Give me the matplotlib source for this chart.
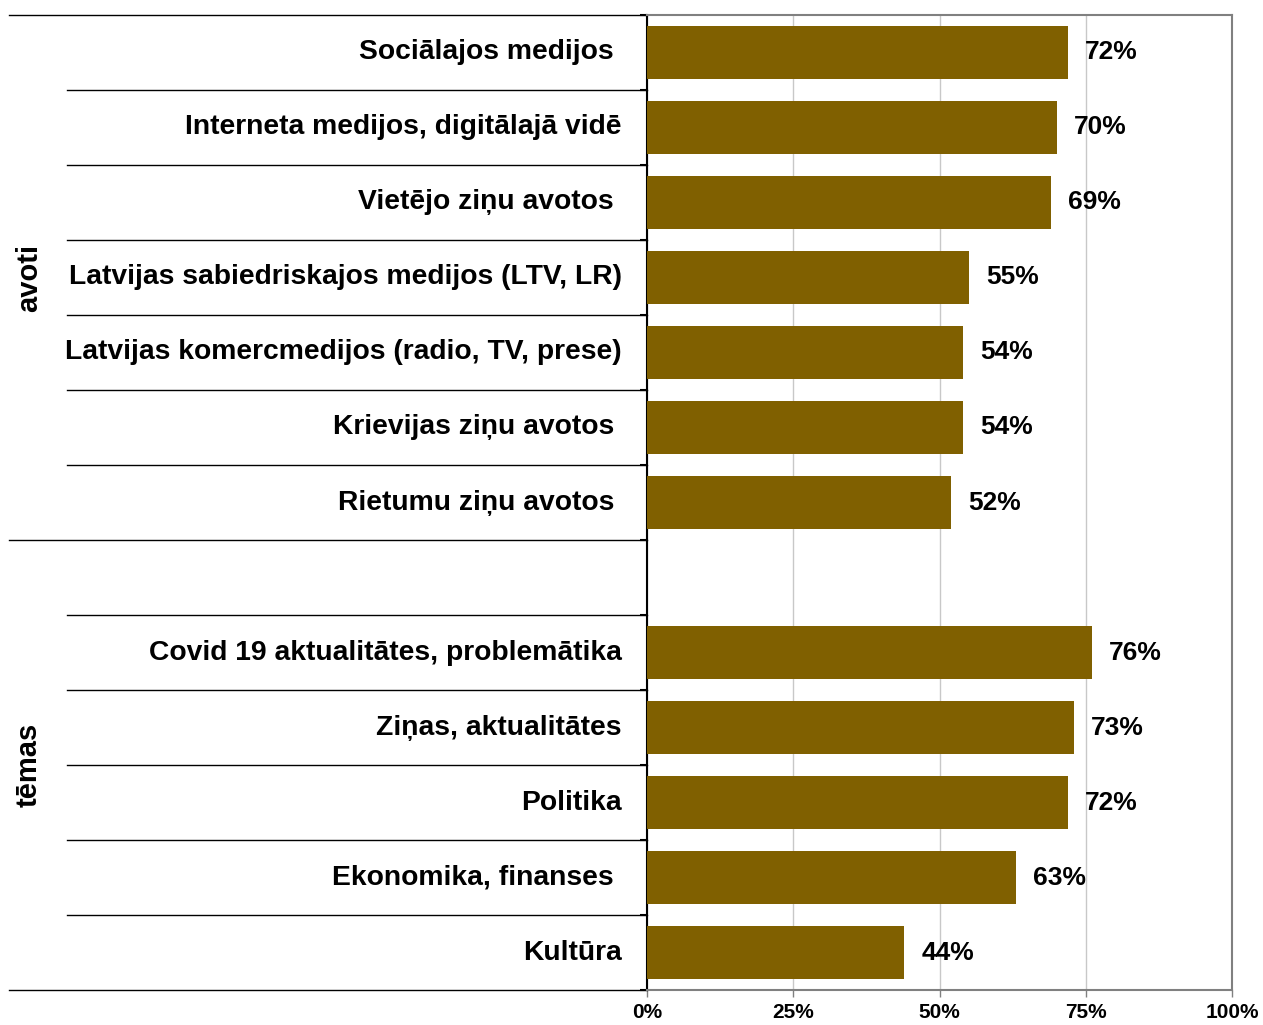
import matplotlib.pyplot as plt
import matplotlib.transforms as mtransforms

plt.rcParams['font.family'] = ['Liberation Sans', 'DejaVu Sans']

labels = ['Sociālajos medijos ', 'Interneta medijos, digitālajā vidē', 'Vietējo ziņu avotos ',
          'Latvijas sabiedriskajos medijos (LTV, LR)', 'Latvijas komercmedijos (radio, TV, prese)',
          'Krievijas ziņu avotos ', 'Rietumu ziņu avotos ', '',
          'Covid 19 aktualitātes, problemātika', 'Ziņas, aktualitātes', 'Politika',
          'Ekonomika, finanses ', 'Kultūra']
values = [72, 70, 69, 55, 54, 54, 52, None, 76, 73, 72, 63, 44]
groups = ['avoti', 'tēmas']
group_rows = [(0, 7), (7, 13)]
xticks = [0, 25, 50, 75, 100]

fig = plt.figure(figsize=(12.63, 10.25), dpi=100)
ax = fig.add_axes([0.5123, 0.0341, 0.4632, 0.9513])
trans = mtransforms.blended_transform_factory(ax.transAxes, ax.transData)

for i, v in enumerate(values):
    if v is None:
        continue
    ax.barh(i, v, height=0.7, color='#806000', zorder=3)
    ax.text(v + 2.9, i, f'{v}%', va='center', ha='left', fontsize=19, fontweight='bold')
    ax.text(-0.043, i, labels[i], transform=trans,
            va='center', ha='right', fontsize=20.3, fontweight='bold')

ax.set_xlim(0, 100)
ax.set_ylim(12.5, -0.5)
ax.set_xticks(xticks)
ax.set_xticklabels([f'{t}%' for t in xticks], fontsize=15, fontweight='bold')
ax.set_yticks([i - 0.5 for i in range(14)])
ax.set_yticklabels([])
ax.tick_params(axis='y', direction='out', length=5, width=1.5, color='black')
ax.tick_params(axis='x', direction='out', length=5, width=1, color='#808080', pad=4)
ax.grid(axis='x', color='#c8c8c8', linewidth=1, zorder=0)

for s in ['top', 'right', 'bottom']:
    ax.spines[s].set_color('#808080')
    ax.spines[s].set_linewidth(1.5)
ax.spines['left'].set_color('black')
ax.spines['left'].set_linewidth(1.5)

# separators in the label column
for b in range(14):
    y = b - 0.5
    x0 = -1.09 if b in (0, 7, 13) else -0.9915
    ax.plot([x0, 0], [y, y], transform=trans, color='black', linewidth=1, clip_on=False)

for g, (a, b) in zip(groups, group_rows):
    ax.text(-1.057, (a + b - 1) / 2, g, transform=trans, rotation=90, va='center', ha='center',
            fontsize=21, fontweight='bold')

fig.savefig('out.png', dpi=100)
